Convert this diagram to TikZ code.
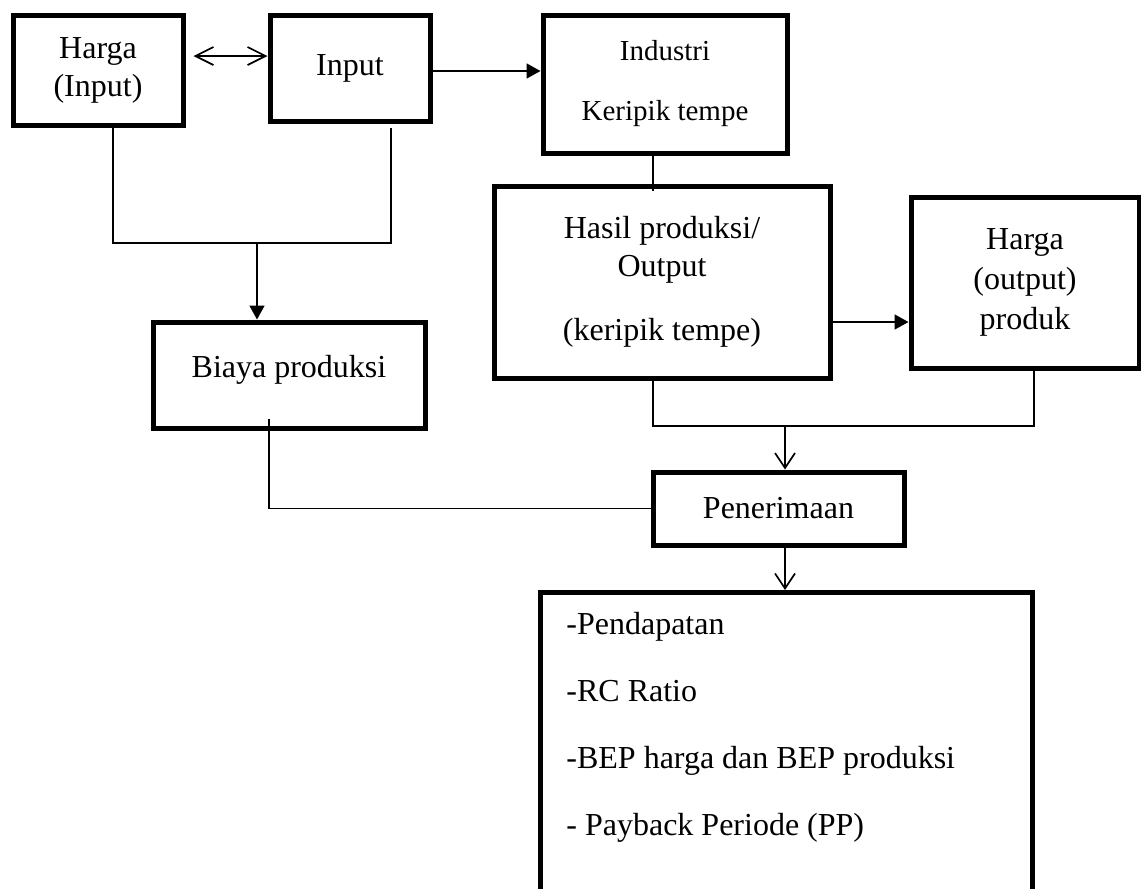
\documentclass[tikz,border=0pt]{standalone}
\usepackage{fontspec}
\setmainfont{Liberation Serif}
\usetikzlibrary{arrows.meta, calc}

\tikzset{
  box/.style={draw, line width=2.5pt, rectangle, align=center, inner sep=2pt},
  conn/.style={line width=0.85pt},
  solidarrow/.style={conn, -{Triangle[length=7pt,width=7.5pt]}},
  openarrow/.style={conn, -{Straight Barb[length=7.5pt,width=10pt]}},
  botharrow/.style={conn, {Straight Barb[length=9pt,width=9pt]}-{Straight Barb[length=9pt,width=9pt]}},
  txt/.style={font=\fontsize{16}{19}\selectfont}
}

\begin{document}
\begin{tikzpicture}[x=0.5pt, y=-0.5pt, txt]
            \clip (0,0) rectangle (1141,889);
            \node[box, minimum width=85pt, minimum height=55pt] (hin) at (98,70) {Harga\\(Input)};
            \node[box, minimum width=80pt, minimum height=53pt] (inp) at (350,68) {Input};
            \node[box, minimum width=122pt, minimum height=69pt, font=\fontsize{14.5}{17}\selectfont] (ind) at (665,84) {Industri\\[13pt]Keripik tempe};
            \node[box, minimum width=168pt, minimum height=96pt] (has) at (662,282) {Hasil produksi/\\Output\\[13pt](keripik tempe)};
            \node[box, minimum width=114pt, minimum height=85.5pt, font=\fontsize{16}{20}\selectfont] (hout) at (1025,282.5) {Harga\\(output)\\produk};
            \node[box, minimum width=136pt, minimum height=53pt, text depth=9pt] (biaya) at (289,375) {Biaya produksi};
            \node[box, minimum width=125.5pt, minimum height=36.5pt] (pen) at (778.5,508.5) {Penerimaan};
            \node[box, anchor=north, minimum width=246pt, minimum height=160pt] (res) at (786,590) {};
            \node[anchor=north west, align=left, inner sep=0pt] (hasil) at (566,612) {-Pendapatan\\[14.5pt]-RC Ratio\\[14.5pt]-BEP harga dan BEP produksi\\[14.5pt]- Payback Periode (PP)};
            \coordinate (j1) at (257,243);
            \coordinate (j3) at (785,426);
            \draw[botharrow] ($(hin.east)+(8,-14)$) coordinate (a1) -- (a1 -| inp.west);
            \draw[solidarrow] ($(inp.east)+(0,3)$) coordinate (a2) -- (a2 -| ind.west);
            \draw[conn] ($(hin.south)+(15,0)$) |- (j1) -| ($(inp.south)+(41,4)$);
            \draw[solidarrow] (j1) -- (j1 |- biaya.north);
            \draw[conn] ($(ind.south)+(-12,0)$) -- ($(has.north)+(-9,7)$);
            \draw[solidarrow] ($(has.east)+(0,40)$) coordinate (a3) -- (a3 -| hout.west);
            \draw[conn] ($(has.south)+(-9,0)$) |- (j3) -| ($(hout.south)+(9,0)$);
            \draw[openarrow] (j3) -- (j3 |- pen.north);
            \draw[openarrow] (j3 |- pen.south) -- (j3 |- res.north);
            \draw[conn] ($(biaya.south)+(-20,-12)$) |- (pen.west);
        \end{tikzpicture}
\end{document}
